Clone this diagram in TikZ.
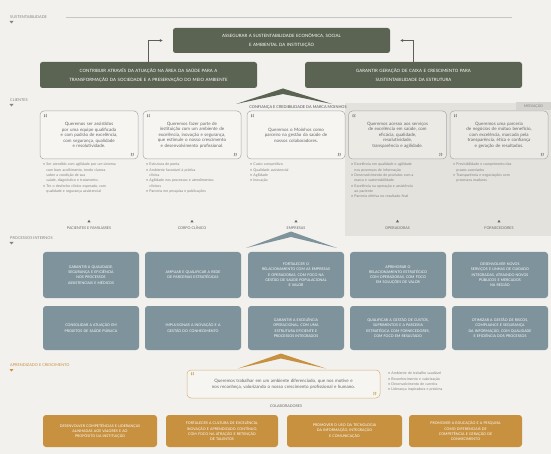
\documentclass[tikz,border=0pt]{standalone}
\usepackage{fontspec}
\setmainfont{Lato}
\usetikzlibrary{arrows.meta}

\definecolor{paper}{HTML}{F2F1ED}
\definecolor{olive}{HTML}{5B6352}
\definecolor{slate}{HTML}{7F939C}
\definecolor{gold}{HTML}{C8913F}
\definecolor{medgray}{HTML}{E3E2DD}
\definecolor{tabgray}{HTML}{D5D4CF}
\definecolor{inkgray}{HTML}{66676A}
\definecolor{softgray}{HTML}{828385}
\definecolor{qfill}{HTML}{F6F5F1}

\newcommand{\qsize}{\fontsize{4.5}{5.6}\selectfont}
\newcommand{\bsize}{\fontsize{3.6}{5.3}\selectfont}

\tikzset{
  olivebox/.style={fill=olive, rounded corners=2.5pt, text=white, align=center,
    minimum width=217pt, minimum height=26pt, text width=205pt, inner sep=0pt,
    font=\fontsize{4.4}{8.8}\selectfont},
  procbox/.style={fill=slate, rounded corners=3pt, text=white, align=center,
    minimum width=96pt, text width=88pt, inner sep=0pt,
    font=\fontsize{3.6}{5.3}\selectfont},
  goldbox/.style={fill=gold, rounded corners=3pt, text=white, align=center,
    minimum height=32pt, inner sep=0pt, font=\fontsize{3.6}{5.1}\selectfont},
  quotebox/.style={draw=softgray!70, line width=0.5pt, fill=qfill, rounded corners=4pt,
    minimum width=98pt, minimum height=48pt, text width=78pt, align=center,
    inner sep=0pt, text=inkgray, font=\qsize},
  bulletlist/.style={anchor=north west, align=left, text width=92pt, inner sep=0pt,
    text=softgray, font=\bsize},
  sectlabel/.style={anchor=west, inner sep=0pt, text=softgray, font=\fontsize{3.9}{4.5}\selectfont},
  whomark/.style={inner sep=0pt, text=inkgray, font=\fontsize{3.7}{4.5}\selectfont},
  qmark/.style={inner sep=0pt, text=softgray, font=\fontsize{12}{12}\selectfont},
  linkarrow/.style={draw=inkgray!90!black, line width=0.8pt, -{Latex[length=3pt,width=3pt]}},
}

\begin{document}
\begin{tikzpicture}[x=1pt, y=-1pt]
\useasboundingbox (0,0) rectangle (551,454);
\fill[paper] (0,0) rectangle (551,454);

% ---------- section headers ----------
\node[sectlabel] (hsus) at (10,17) {SUSTENTABILIDADE};
\fill[softgray] (9.5,21) -- (13.5,21) -- (11.5,23.5) -- cycle;
\draw[softgray!45, line width=0.4pt] (66,17) -- (512,17);

\node[sectlabel] (hcli) at (10,100) {CLIENTES};
\fill[softgray] (9.5,104) -- (13.5,104) -- (11.5,106.5) -- cycle;

\node[sectlabel] (hpro) at (10,238) {PROCESSOS INTERNOS};
\fill[softgray] (9.5,242) -- (13.5,242) -- (11.5,244.5) -- cycle;

\node[sectlabel, text=gold] (hapr) at (10,365) {APRENDIZADO E CRESCIMENTO};
\fill[gold] (9.5,369) -- (13.5,369) -- (11.5,371.5) -- cycle;

% ---------- sustainability ----------
\node[olivebox, minimum height=25pt] (top) at (281.5,40.5)
  {ASSEGURAR A SUSTENTABILIDADE ECONÔMICA, SOCIAL\\E AMBIENTAL DA INSTITUIÇÃO};
\node[olivebox] (left) at (148.5,75)
  {CONTRIBUIR ATRAVÉS DA ATUAÇÃO NA ÁREA DA SAÚDE PARA A\\TRANSFORMAÇÃO DA SOCIEDADE E A PRESERVAÇÃO DO MEIO AMBIENTE};
\node[olivebox] (right) at (413.5,75)
  {GARANTIR GERAÇÃO DE CAIXA E CRESCIMENTO PARA\\SUSTENTABILIDADE DA ESTRUTURA};
\coordinate (lend) at ([xshift=-10pt]top.west);
\coordinate (rend) at ([xshift=10pt]top.east);
\draw[linkarrow] (left.north) |- (lend);
\draw[linkarrow] (right.north) |- (rend);

% olive chevron
\fill[olive] (236,104) -- (283,88.5) -- (332,104) -- (283,94) -- cycle;

% ---------- clients ----------
\fill[medgray] (345,103) rectangle (551,236);
\fill[tabgray] (516,102) rectangle (551,110);
\node[inner sep=0pt, text=softgray, font=\fontsize{3.6}{4}\selectfont] (med) at (533.5,106) {MEDIAÇÃO};

\node[inner sep=0pt, text=inkgray!80!black, font=\fontsize{3.9}{4.5}\selectfont] (trust) at (298,107.5)
  {CONFIANÇA E CREDIBILIDADE DA MARCA MOINHOS};

\node[quotebox] (q1) at (89,135) {Queremos ser assistidos\\por uma equipe qualificada\\e com padrão de excelência,\\com segurança, qualidade\\e resolutividade.};
\node[quotebox] (q2) at (192,135) {Queremos fazer parte de\\instituição com um ambiente de\\excelência, inovação e segurança,\\que estimule o nosso crescimento\\e desenvolvimento profissional.};
\node[quotebox] (q3) at (296,135) {Queremos o Moinhos como\\parceiro na gestão da saúde de\\nossos colaboradores.\\[6pt]};
\node[quotebox, fill=medgray!60!qfill] (q4) at (397.5,135) {Queremos acesso aos serviços\\de excelência em saúde, com\\eficácia, qualidade,\\resolutividade,\\transparência e agilidade.};
\node[quotebox, fill=medgray!60!qfill] (q5) at (499,135) {Queremos uma parceria\\de negócios de mútuo benefício,\\com excelência, marcada pela\\transparência, ética e confiança\\e geração de resultados.};

\foreach \q in {q1,q2,q3,q4,q5}{
  \node[qmark, anchor=north west] at ([xshift=3.5pt,yshift=-3pt]\q.north west) {“};
  \node[qmark, anchor=south east] at ([xshift=-3.5pt,yshift=-3pt]\q.south east) {”};
}

\node[bulletlist] (b1) at (43,163) {• Ser atendido com agilidade por um sistema\\\hphantom{• }com bom acolhimento, tendo clareza\\\hphantom{• }sobre a condição de sua\\\hphantom{• }saúde, diagnóstico e tratamento.\\• Ter o desfecho clínico esperado, com\\\hphantom{• }qualidade e segurança assistencial};
\node[bulletlist] (b2) at (146,163) {• Estrutura de ponta\\• Ambiente favorável à prática\\\hphantom{• }clínica\\• Agilidade nos processos e atendimentos\\\hphantom{• }clínicos\\• Parceria em pesquisa e publicações};
\node[bulletlist] (b3) at (250,163) {• Custo competitivo\\• Qualidade assistencial\\• Agilidade\\• Inovação};
\node[bulletlist] (b4) at (351,163) {• Excelência em qualidade e agilidade\\\hphantom{• }nos processos de informação\\• Desenvolvimento de produtos com a\\\hphantom{• }marca e sustentabilidade\\• Excelência na operação e assistência\\\hphantom{• }ao paciente\\• Parceria efetiva no resultado final};
\node[bulletlist] (b5) at (453,163) {• Previsibilidade e cumprimento dos\\\hphantom{• }prazos acordados\\• Transparência e negociações com\\\hphantom{• }processos maduros};

\foreach \n/\cx/\t in {w1/89/PACIENTES E FAMILIARES, w2/192/CORPO CLÍNICO, w3/296/EMPRESAS, w4/397.5/OPERADORAS, w5/499/FORNECEDORES}{
  \fill[inkgray] (\cx-1.6,222.5) -- (\cx+1.6,222.5) -- (\cx,219.8) -- cycle;
  \node[whomark] (\n) at (\cx,228) {\t};
}

% slate chevron
\fill[slate] (246,248) -- (291,231.5) -- (337,248) -- (291,237) -- cycle;

% ---------- internal processes ----------
\node[procbox, minimum height=46pt] (p11) at (91,275) {GARANTIR A QUALIDADE,\\SEGURANÇA E EFICIÊNCIA\\NOS PROCESSOS\\ASSISTENCIAIS E MÉDICOS};
\node[procbox, minimum height=46pt] (p12) at (193,275) {AMPLIAR E QUALIFICAR A REDE\\DE PARCERIAS ESTRATÉGICAS};
\node[procbox, minimum height=46pt] (p13) at (296,275) {FORTALECER O\\RELACIONAMENTO COM AS EMPRESAS\\E OPERADORAS, COM FOCO NA\\GESTÃO DE SAÚDE POPULACIONAL\\E VALOR};
\node[procbox, minimum height=46pt] (p14) at (398,275) {APRIMORAR O\\RELACIONAMENTO ESTRATÉGICO\\COM OPERADORAS, COM FOCO\\EM SOLUÇÕES DE VALOR};
\node[procbox, minimum height=46pt] (p15) at (500,275) {DESENVOLVER NOVOS\\SERVIÇOS E LINHAS DE CUIDADO\\INTEGRADAS, ATRAINDO NOVOS\\PÚBLICOS E MERCADOS\\NA REGIÃO};

\node[procbox, minimum height=44pt] (p21) at (91,328) {CONSOLIDAR A ATUAÇÃO EM\\PROJETOS DE SAÚDE PÚBLICA};
\node[procbox, minimum height=44pt] (p22) at (193,328) {IMPULSIONAR A INOVAÇÃO E A\\GESTÃO DO CONHECIMENTO};
\node[procbox, minimum height=44pt] (p23) at (296,328) {GARANTIR A EXCELÊNCIA\\OPERACIONAL, COM UMA\\ESTRUTURA EFICIENTE E\\PROCESSOS INTEGRADOS};
\node[procbox, minimum height=44pt] (p24) at (398,328) {QUALIFICAR A GESTÃO DE CUSTOS,\\SUPRIMENTOS E A PARCERIA\\ESTRATÉGICA COM FORNECEDORES,\\COM FOCO EM RESULTADO};
\node[procbox, minimum height=44pt] (p25) at (500,328) {OTIMIZAR A GESTÃO DE RISCOS,\\COMPLIANCE E SEGURANÇA\\DA INFORMAÇÃO, COM QUALIDADE\\E EFICIÊNCIA DOS PROCESSOS};

% gold chevron
\fill[gold] (238,368.5) -- (281,353.5) -- (326,368.5) -- (281,358.5) -- cycle;

% ---------- learning and growth ----------
\node[quotebox, draw=gold!70, minimum width=193pt, minimum height=28pt, text width=160pt] (q6) at (283.5,384)
  {Queremos trabalhar em um ambiente diferenciado, que nos motive e\\nos reconheça, valorizando o nosso crescimento profissional e humano.};
\node[qmark, text=gold!85, anchor=north west] at ([xshift=3.5pt,yshift=-2pt]q6.north west) {“};
\node[qmark, text=gold!85, anchor=south east] at ([xshift=-3pt,yshift=-3pt]q6.south east) {”};
\node[bulletlist, text width=80pt] (b6) at (388,372) {• Ambiente de trabalho saudável\\• Reconhecimento e valorização\\• Desenvolvimento de carreira\\• Liderança inspiradora e próxima};

\node[whomark] (colab) at (286,406) {COLABORADORES};

\node[goldbox, minimum width=114pt, text width=106pt] (g1) at (100,431) {DESENVOLVER COMPETÊNCIAS E LIDERANÇAS\\ALINHADAS AOS VALORES E AO\\PROPÓSITO DA INSTITUIÇÃO};
\node[goldbox, minimum width=112pt, text width=104pt] (g2) at (222,431) {FORTALECER A CULTURA DE EXCELÊNCIA,\\INOVAÇÃO E APRENDIZADO CONTÍNUO,\\COM FOCO NA ATRAÇÃO E RETENÇÃO\\DE TALENTOS};
\node[goldbox, minimum width=115pt, text width=107pt] (g3) at (344.5,431) {PROMOVER O USO DA TECNOLOGIA\\DA INFORMAÇÃO, INTEGRAÇÃO\\E COMUNICAÇÃO};
\node[goldbox, minimum width=113pt, text width=105pt] (g4) at (465.5,431) {PROMOVER A EDUCAÇÃO E A PESQUISA\\COMO DIFERENCIAIS DE\\COMPETÊNCIA E GERAÇÃO DE\\CONHECIMENTO};
\end{tikzpicture}
\end{document}
